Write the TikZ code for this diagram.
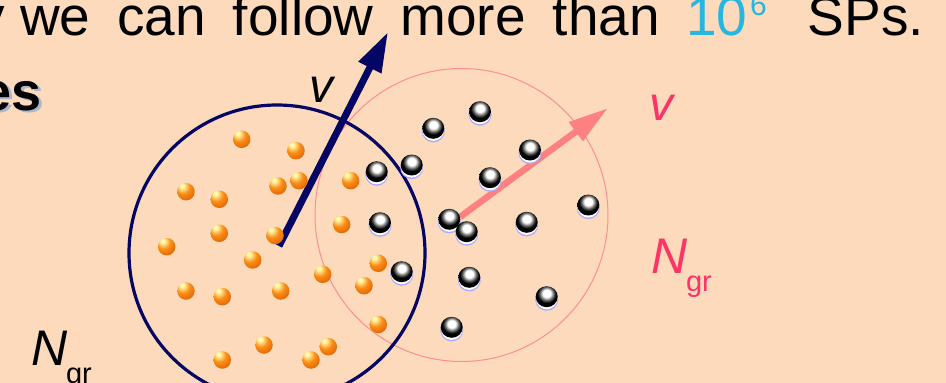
\documentclass[tikz,border=0pt]{standalone}
\usepackage{fontspec}
\setmainfont{Liberation Sans}
\usetikzlibrary{arrows.meta,shapes.geometric}
\definecolor{bg}{RGB}{252,218,187}
\definecolor{navy}{RGB}{5,5,100}
\definecolor{pinkline}{RGB}{255,140,150}
\definecolor{pinkarrow}{RGB}{255,128,128}
\definecolor{pinktext}{RGB}{255,51,102}
\definecolor{cyantext}{RGB}{38,182,226}
\definecolor{shadowc}{RGB}{170,182,205}
\definecolor{rimc}{RGB}{170,170,255}
\definecolor{ohi}{RGB}{255,250,170}
\definecolor{omid}{RGB}{250,140,20}
\definecolor{odark}{RGB}{215,80,0}
\pgfdeclareradialshading{oball}{\pgfpoint{-12bp}{18bp}}{color(0bp)=(ohi); color(5bp)=(ohi); color(20bp)=(omid); color(45bp)=(odark); color(80bp)=(odark)}
\pgfdeclareradialshading{bball}{\pgfpoint{0bp}{9bp}}{color(0bp)=(white); color(9bp)=(white); color(15bp)=(black!55); color(21bp)=(black); color(80bp)=(black)}
\begin{document}
\begin{tikzpicture}[x=1pt,y=-1pt,
  oball/.style={circle,inner sep=0pt,minimum size=17.5pt,shading=oball},
  bball/.style={ellipse,inner sep=0pt,minimum width=22pt,minimum height=21pt,shading=bball},
  lbl/.style={inner sep=0pt,outer sep=0pt},
  bigtxt/.style={lbl,font=\fontsize{55}{60}\selectfont},
  itl/.style={lbl,font=\fontsize{50}{55}\selectfont\itshape},
  sub/.style={lbl,font=\fontsize{29}{32}\selectfont},
]
\fill[bg] (0,0) rectangle (946,383);
\useasboundingbox (0,0) rectangle (946,383);
\clip (0,0) rectangle (946,383);

% top text
\node[bigtxt,anchor=base east] (t1) at (660,35) {\spaceskip=27pt y\hspace{15pt}we can follow more than};
\node[bigtxt,anchor=base west,text=cyantext] (t2) at (686,35) {10};
\node[lbl,anchor=base west,text=cyantext,font=\fontsize{30}{32}\selectfont] (t3) at (750,15) {6};
\node[bigtxt,anchor=base east] (t4) at (924,35) {SPs.};

% "es" with shadow
\node[lbl,anchor=base east,text=shadowc,font=\fontsize{54}{58}\selectfont\bfseries] (es2) at (44.5,112.5) {es};
\node[lbl,anchor=base east,font=\fontsize{54}{58}\selectfont\bfseries] (es) at (42,110) {es};

% circles
\node[circle,draw=pinkline,line width=1pt,minimum size=293pt,inner sep=0pt] (cp) at (461.5,215) {};
\node[circle,draw=navy,line width=3.2pt,minimum size=296pt,inner sep=0pt] (cn) at (277,253) {};

% arrows
\coordinate (vt) at (279,246);
\coordinate (vh) at (388,32);
\coordinate (pt) at (460,217);
\coordinate (ph) at (608,108);
\draw[navy,line width=7pt,-{Triangle[length=40pt,width=24pt]}] (vt) -- (vh);
\draw[pinkarrow,line width=6.5pt,-{Triangle[length=40pt,width=22pt]}] (pt) -- (ph);

% labels
\node[itl,anchor=base west,font=\fontsize{48}{52}\selectfont\itshape] (v1) at (309,102) {v};
\node[itl,anchor=base west,text=pinktext,font=\fontsize{48}{52}\selectfont\itshape] (v2) at (649,120) {v};
\node[itl,anchor=base west,text=pinktext] (n2) at (651,273) {N};
\node[sub,anchor=base west,text=pinktext] (g2) at (686,291) {gr};
\node[itl,anchor=base west] (n1) at (31,365) {N};
\node[sub,anchor=base west] (g1) at (66,383) {gr};

% orange balls
\foreach [count=\i] \x/\y in {241.7/139.3, 296/150.7, 186/191.7, 219.3/199.3, 278/186, 299/180.7, 350.7/180.7, 219.3/233.3, 166.7/246.7, 275/235.5, 341.7/224.5, 252.7/260, 378.3/263.3, 322.7/274.3, 186/291, 222.3/296.7, 280.7/291, 364/285.7, 378.3/324.5, 264/345, 328.3/346.7, 311/360, 222.3/360}
  \node[oball] (o\i) at (\x,\y) {};

% black balls
\foreach [count=\i] \x/\y in {480/111.7, 433.3/128.3, 530/150, 376.7/171.7, 411.7/165, 490/177.7, 588.3/205, 380/222.7, 449.3/219.3, 466.7/231.7, 526.7/222.3, 401.7/271.7, 469.3/277.3, 546.7/296.7, 451.7/327.3}
{
  \fill[rimc] (\x,\y+2.6) circle[radius=11.5pt];
  \fill[white] (\x,\y+1.8) circle[radius=10.8pt];
  \node[bball] (b\i) at (\x,\y) {};
}
\end{tikzpicture}
\end{document}
